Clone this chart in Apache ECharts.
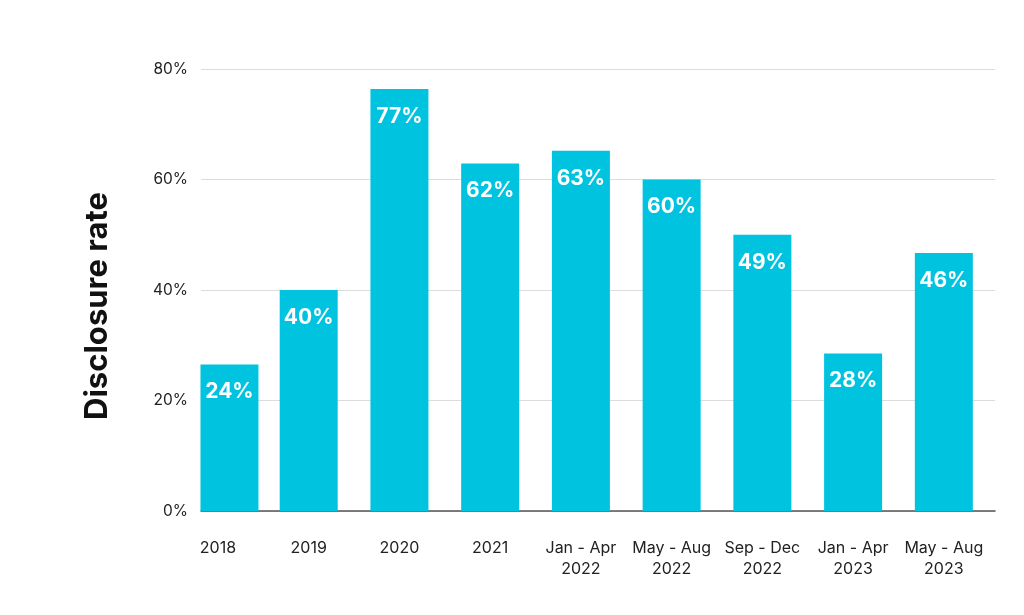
<!DOCTYPE html>
<html>
<head>
<meta charset="utf-8">
<script src="https://cdn.jsdelivr.net/npm/echarts@6/dist/echarts.min.js"></script>
<style>html,body{margin:0;padding:0;background:#fff;}#c{width:1024px;height:615px;}</style>
</head>
<body>
<div id="c"></div>
<script>
var categories = ['2018', '2019', '2020', '2021', 'Jan - Apr\n2022', 'May - Aug\n2022', 'Sep - Dec\n2022', 'Jan - Apr\n2023', 'May - Aug\n2023'];
var barValues = [26.5, 40, 76.4, 62.9, 65.2, 60, 50, 28.5, 46.7];
var barLabels = ['24%', '40%', '77%', '62%', '63%', '60%', '49%', '28%', '46%'];
var yTicks = [0, 20, 40, 60, 80];
var yTitle = 'Disclosure rate';

var FONT = 'Inter, "Noto Sans", sans-serif';
var BAR = '#00c3e0';

var firstBar = barValues.map(function (v, i) { return i === 0 ? v : '-'; });
var otherBars = barValues.map(function (v, i) { return i === 0 ? '-' : v; });

var labelCfg = {
  show: true,
  position: 'insideTop',
  distance: 17,
  color: '#fff',
  fontFamily: FONT,
  fontWeight: 'bold',
  fontSize: 21,
  formatter: function (p) { return barLabels[p.dataIndex]; }
};

var chart = echarts.init(document.getElementById('c'), null, { renderer: 'canvas' });
chart.setOption({
  animation: false,
  backgroundColor: '#fff',
  grid: [
    { left: 201, right: 29, top: 69, bottom: 104 },
    { left: 172.6, width: 816.6, top: 69, bottom: 104 },
    { left: 184.1, width: 816.6, top: 69, bottom: 104 }
  ],
  xAxis: [
    { gridIndex: 0, type: 'category', data: categories, axisLine: { show: true, lineStyle: { color: '#555', width: 1.5 } }, axisTick: { show: false }, axisLabel: { show: false }, splitLine: { show: false } },
    { gridIndex: 1, type: 'category', data: categories, axisLine: { show: false }, axisTick: { show: false },
      axisLabel: { color: '#222', fontFamily: FONT, fontSize: 16, lineHeight: 21, margin: 27, interval: 0 } },
    { gridIndex: 2, type: 'category', data: categories, show: false }
  ],
  yAxis: [
    { gridIndex: 0, type: 'value', min: yTicks[0], max: yTicks[yTicks.length - 1], interval: 20,
      axisLine: { show: false }, axisTick: { show: false },
      axisLabel: { color: '#222', fontFamily: FONT, fontSize: 15.5, margin: 13, formatter: '{value}%' },
      splitLine: { lineStyle: { color: '#dcdcdc', width: 1.2 } } },
    { gridIndex: 1, type: 'value', min: yTicks[0], max: yTicks[yTicks.length - 1], show: false },
    { gridIndex: 2, type: 'value', min: yTicks[0], max: yTicks[yTicks.length - 1], show: false }
  ],
  graphic: [{
    type: 'text',
    x: 98, y: 306,
    rotation: Math.PI / 2,
    style: { text: yTitle, fill: '#111', font: 'bold 31px ' + FONT, align: 'center', verticalAlign: 'middle' }
  }],
  series: [
    { type: 'bar', xAxisIndex: 1, yAxisIndex: 1, data: otherBars, barWidth: 58, itemStyle: { color: BAR }, label: labelCfg },
    { type: 'bar', xAxisIndex: 2, yAxisIndex: 2, data: firstBar, barWidth: 58, itemStyle: { color: BAR }, label: labelCfg }
  ]
});
</script>
</body>
</html>
